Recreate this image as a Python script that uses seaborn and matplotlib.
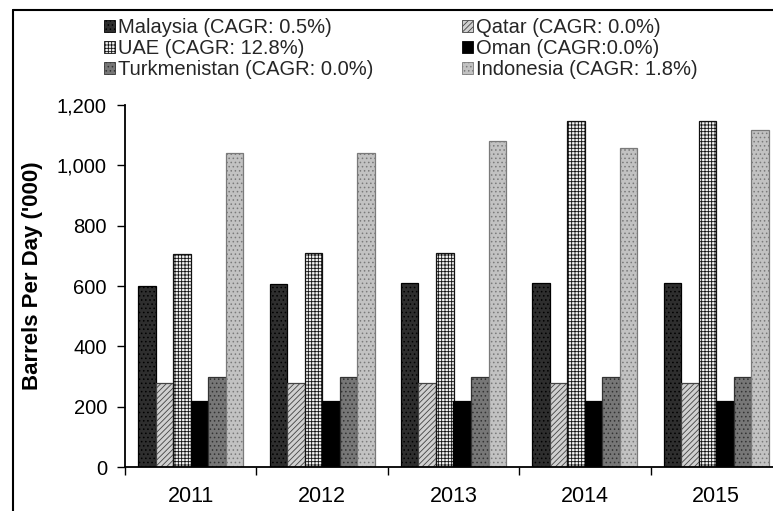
import matplotlib
matplotlib.use("Agg")
import matplotlib.pyplot as plt
import seaborn as sns
import pandas as pd
from matplotlib.patches import Patch
from matplotlib.lines import Line2D
from matplotlib.ticker import FuncFormatter, FixedLocator

years = ["2011", "2012", "2013", "2014", "2015"]
countries = ["Malaysia", "Qatar", "UAE", "Oman", "Turkmenistan", "Indonesia"]
legend_labels = [
    "Malaysia (CAGR: 0.5%)",
    "Qatar (CAGR: 0.0%)",
    "UAE (CAGR: 12.8%)",
    "Oman (CAGR:0.0%)",
    "Turkmenistan (CAGR: 0.0%)",
    "Indonesia (CAGR: 1.8%)",
]
malaysia = [600, 605, 610, 610, 610]
qatar = [280, 280, 280, 280, 280]
uae = [706, 710, 710, 1147, 1147]
oman = [220, 220, 220, 220, 220]
turkmenistan = [300, 300, 300, 300, 300]
indonesia = [1041, 1041, 1080, 1057, 1117]
yticks = [0, 200, 400, 600, 800, 1000, 1200]

series = [malaysia, qatar, uae, oman, turkmenistan, indonesia]
rows = []
for name, vals in zip(countries, series):
    for y, v in zip(years, vals):
        rows.append({"Year": y, "Country": name, "Value": v})
df = pd.DataFrame(rows)

sns.set_theme(style="white")
plt.rcParams["font.family"] = ["Liberation Sans", "DejaVu Sans"]
plt.rcParams["hatch.linewidth"] = 0.6

faces = ["#2e2e2e", "#d0d0d0", "#f2f2f2", "#000000", "#777777", "#c2c2c2"]
hatches = ["....", "//////", "+++++", "", "....", "...."]
hatch_cols = ["#000000", "#444444", "#111111", "#000000", "#333333", "#7a7a7a"]

fig = plt.figure(figsize=(7.73, 5.11), dpi=100)
ax = fig.add_axes([125 / 773, 44 / 511, 657 / 773, 362 / 511])

sns.barplot(data=df, x="Year", y="Value", hue="Country", order=years,
            hue_order=countries, palette=faces, width=0.8, ax=ax,
            saturation=1, legend=False, errorbar=None)

for cont, fc, h, hc in zip(ax.containers, faces, hatches, hatch_cols):
    for bar in cont:
        bar.set_facecolor(fc)
        bar.set_hatch(h)
        bar.set_edgecolor(hc)
        bar.set_linewidth(0.9)

ax.set_ylim(0, 1200)
ax.set_xlim(-0.5, 4.5)
ax.yaxis.set_major_locator(FixedLocator(yticks))
ax.yaxis.set_major_formatter(FuncFormatter(lambda v, p: f"{int(v):,}"))
ax.tick_params(axis="y", direction="out", length=6, width=1, color="black",
               labelsize=14.5, pad=7, left=True)
ax.tick_params(axis="x", which="major", length=0, labelsize=15.5, pad=14)
ax.xaxis.set_minor_locator(FixedLocator([-0.5, 0.5, 1.5, 2.5, 3.5, 4.5]))
ax.tick_params(axis="x", which="minor", direction="out", length=6, width=1,
               color="black", bottom=True)
for lbl in ax.get_xticklabels() + ax.get_yticklabels():
    lbl.set_color("black")

for s in ["top", "right"]:
    ax.spines[s].set_visible(False)
for s in ["left", "bottom"]:
    ax.spines[s].set_color("black")
    ax.spines[s].set_linewidth(1.3)

ax.set_xlabel("")
ax.set_ylabel("")
fig.text(33 / 773, 1 - 276 / 511, "Barrels Per Day ('000)", rotation=90,
         ha="center", va="center", fontsize=16, fontweight="bold",
         color="black")

# Two legend columns: Malaysia/UAE/Turkmenistan and Qatar/Oman/Indonesia
def make_handle(i):
    return Patch(facecolor=faces[i], hatch=hatches[i], edgecolor=hatch_cols[i],
                 linewidth=0.6)

legend_kw = dict(loc="upper left", frameon=False, fontsize=14.5,
                 handlelength=0.55, handleheight=0.55, handletextpad=0.15,
                 labelspacing=0.1, borderaxespad=0, borderpad=0)
for idx, x0 in (([0, 2, 4], 104), ([1, 3, 5], 462)):
    fig.legend([make_handle(i) for i in idx], [legend_labels[i] for i in idx],
               bbox_to_anchor=(x0 / 773, 1 - 18 / 511), **legend_kw)

# Outer frame lines along the top and left
fig.add_artist(Line2D([13 / 773, 1.0], [1 - 10 / 511, 1 - 10 / 511],
                      transform=fig.transFigure, color="black", lw=1.5))
fig.add_artist(Line2D([13 / 773, 13 / 773], [0, 1 - 10 / 511],
                      transform=fig.transFigure, color="black", lw=1.5))

fig.savefig("out.png", dpi=100)
